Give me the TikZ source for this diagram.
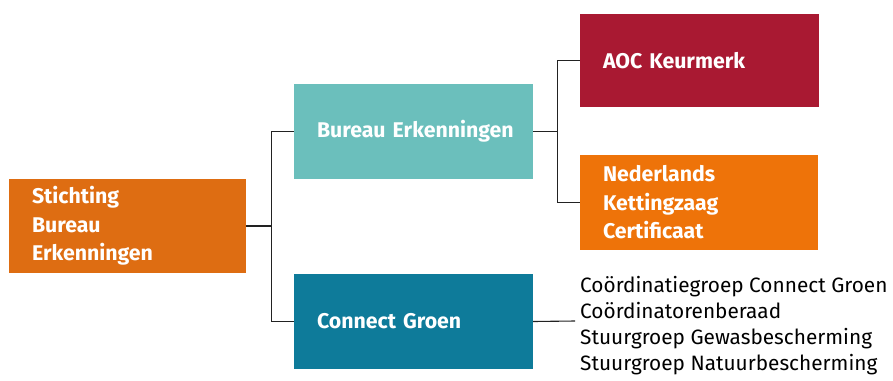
\documentclass[tikz,border=0pt]{standalone}
\usepackage{fontspec}
\setmainfont{Fira Sans}
\definecolor{cStich}{HTML}{DE6D12}
\definecolor{cBureau}{HTML}{6BBFBC}
\definecolor{cConnect}{HTML}{0E7B9A}
\definecolor{cAOC}{HTML}{A91932}
\definecolor{cNKC}{HTML}{EE7309}
\definecolor{cLine}{HTML}{222222}
\begin{document}
\begin{tikzpicture}[x=1pt,y=-1pt,
  orgbox/.style={rectangle, inner ysep=0pt, inner xsep=23pt, text width=#1,
    align=left, text=white, font=\fontsize{21.3}{28.5}\selectfont\bfseries,
    minimum height=95pt},
  listitem/.style={anchor=base west, inner sep=0pt, font=\fontsize{20.8}{26}\selectfont},
  conn/.style={draw=cLine, line width=1.1pt}]
\path[use as bounding box] (0,0) rectangle (893,380);
\node[orgbox=191pt, fill=cStich, minimum height=94pt] (sbe) at (127.5,226) {Stichting\\Bureau\\Erkenningen};
\node[orgbox=193pt, fill=cBureau] (be) at (413.5,131.5) {\mbox{Bureau Erkenningen}};
\node[orgbox=193pt, fill=cConnect] (cg) at (413.5,321.5) {Connect Groen};
\node[orgbox=193pt, fill=cAOC, minimum height=93pt] (aoc) at (699.5,60.5) {AOC Keurmerk};
\node[orgbox=192pt, fill=cNKC] (nkc) at (699,202.5) {Nederlands\\Kettingzaag\\Certificaat};
\node[listitem] (l1) at (580,292) {Coördinatiegroep Connect Groen};
\node[listitem] (l2) at (580,318) {Coördinatorenberaad};
\node[listitem] (l3) at (580,344) {Stuurgroep Gewasbescherming};
\node[listitem] (l4) at (580,370) {Stuurgroep Natuurbescherming};
\coordinate (cgend) at (575,321);
\draw[conn] (sbe.east) -- ++(25,0) coordinate (j1);
\draw[conn] (be.west) -| (j1) |- (cg.west);
\draw[conn] (be.east) -- ++(24,0) coordinate (j2);
\draw[conn] (aoc.west) -| (j2) |- (nkc.west);
\draw[conn] (cg.east) -- (cgend);
\end{tikzpicture}
\end{document}
